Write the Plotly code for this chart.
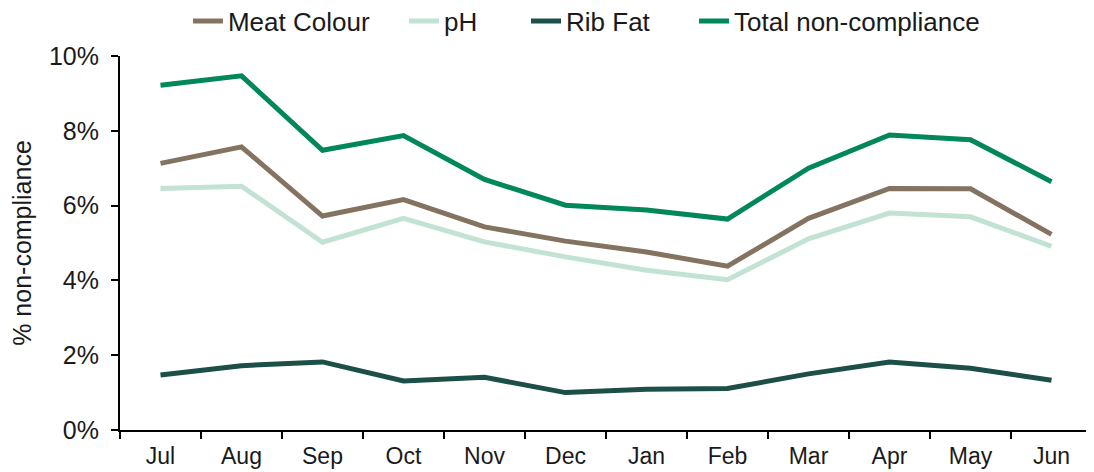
import plotly.graph_objects as go

months = ["Jul", "Aug", "Sep", "Oct", "Nov", "Dec", "Jan", "Feb", "Mar", "Apr", "May", "Jun"]
meat_colour = [7.13, 7.57, 5.72, 6.16, 5.43, 5.05, 4.76, 4.38, 5.66, 6.46, 6.45, 5.23]
ph = [6.46, 6.52, 5.02, 5.66, 5.03, 4.63, 4.27, 4.02, 5.11, 5.80, 5.70, 4.91]
rib_fat = [1.47, 1.72, 1.82, 1.31, 1.41, 1.00, 1.09, 1.11, 1.50, 1.82, 1.65, 1.33]
total = [9.22, 9.47, 7.48, 7.87, 6.70, 6.01, 5.88, 5.64, 7.00, 7.89, 7.76, 6.64]

series = [
    ("Meat Colour", meat_colour, "#857362"),
    ("pH", ph, "#c2e3d3"),
    ("Rib Fat", rib_fat, "#1c4f47"),
    ("Total non-compliance", total, "#00875a"),
]
legend_x = [0.1657, 0.3646, 0.4770, 0.6317]

fig = go.Figure()
legend_ids = ["legend", "legend2", "legend3", "legend4"]
for (name, vals, col), lid in zip(series, legend_ids):
    fig.add_trace(go.Scatter(
        x=months, y=[v / 100 for v in vals], name=name, mode="lines",
        line=dict(color=col, width=5), legend=lid,
    ))

font = "Liberation Sans, Arial, Helvetica, sans-serif"
legend_style = dict(orientation="h", xref="container", xanchor="left",
                    yref="container", y=0.972, yanchor="middle",
                    font=dict(size=26), itemwidth=30, bgcolor="rgba(0,0,0,0)")
layout_legends = {lid: dict(legend_style, x=lx) for lid, lx in zip(legend_ids, legend_x)}

fig.update_layout(
    width=1086, height=464,
    margin=dict(l=112, r=2, t=48, b=42, autoexpand=False),
    paper_bgcolor="white", plot_bgcolor="white",
    font=dict(family=font, size=24, color="#1a1a1a"),
    showlegend=True,
    xaxis=dict(
        type="category", range=[-0.5, 11.5], tickson="boundaries",
        showline=True, linecolor="black", linewidth=2,
        ticks="outside", ticklen=7, tickwidth=2, tickcolor="black",
        showgrid=False, zeroline=False, automargin=False,
        tickfont=dict(size=23), ticklabelstandoff=4,
    ),
    yaxis=dict(
        range=[0, 0.10], tickvals=[0, 0.02, 0.04, 0.06, 0.08, 0.10],
        tickformat=".0%",
        showline=True, linecolor="black", linewidth=2,
        ticks="outside", ticklen=7, tickwidth=2, tickcolor="black",
        showgrid=False, zeroline=False, automargin=False,
        tickfont=dict(size=25), ticklabelstandoff=7,
        title=dict(text="% non-compliance", font=dict(size=25), standoff=14),
    ),
    **layout_legends,
)

fig.write_html("out.html")
